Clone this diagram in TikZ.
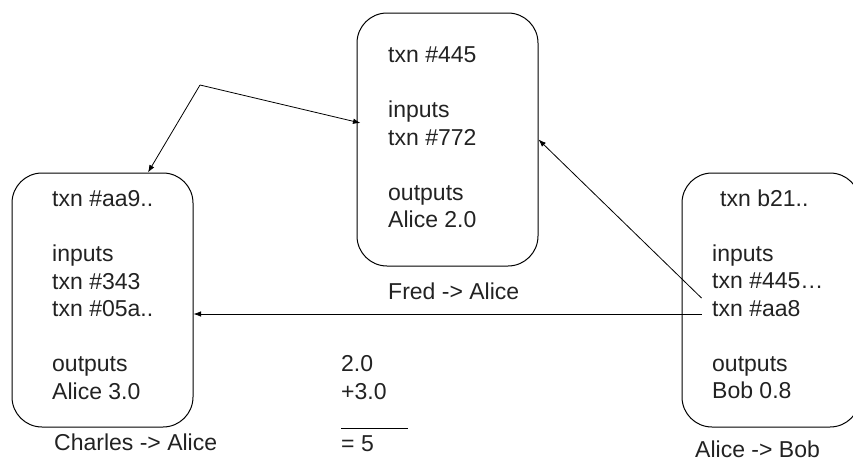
\documentclass[tikz,border=0pt]{standalone}
\usepackage{fontspec}
\setmainfont{Liberation Sans}
\usetikzlibrary{arrows.meta}
\definecolor{inkgray}{HTML}{222222}
\tikzset{
  txbox/.style={draw,line width=1pt,rounded corners=30pt,inner sep=0pt},
  txtext/.style={anchor=north west,align=left,inner sep=0pt,text=inkgray,
    font=\fontsize{23}{27.5}\selectfont},
  txlabel/.style={anchor=base west,inner sep=0pt,text=inkgray,
    font=\fontsize{23}{27.5}\selectfont},
  link/.style={line width=0.8pt,-{Latex[length=7.5pt,width=5.5pt]}}
}
\begin{document}
\begin{tikzpicture}[x=1pt,y=-1pt]
\useasboundingbox (0,0) rectangle (853,461);
\node[txbox,minimum width=181pt,minimum height=254pt] (left) at (102.5,300) {};
\node[txbox,minimum width=181pt,minimum height=253pt] (mid) at (447.5,139.5) {};
\node[txbox,minimum width=178pt,minimum height=254pt] (right) at (771,300) {};

\node[txtext] (lefttxt) at (52,190.5)
  {txn \#aa9..\\[27.5pt]inputs\\txn \#343\\txn \#05a..\\[27.5pt]outputs\\Alice 3.0};
\node[txtext] (midtxt) at (388,46.5)
  {txn \#445\\[27.5pt]inputs\\txn \#772\\[27.5pt]outputs\\Alice 2.0};
\node[txtext] (righttxt) at (712,189.5)
  {\hspace*{8pt}txn b21..\\[27.5pt]inputs\\txn \#445…\\txn \#aa8\\[27.5pt]outputs\\Bob 0.8};

\node[txlabel] (fred) at (388,299) {Fred -> Alice};
\node[txlabel] (charles) at (54,450) {Charles -> Alice};
\node[txlabel] (bob) at (695,457) {Alice -> Bob};

\node[txtext] (sum) at (341,355.5) {2.0\\+3.0};
\draw[line width=1pt] (341,428) -- (408,428);
\node[txlabel] (total) at (341,451) {= 5};

\coordinate (kink) at (200,85);
\coordinate (aa8) at ([xshift=20pt,yshift=-14pt]right.west);
\coordinate (in445) at ([xshift=20pt,yshift=2pt]right.west);
\draw[link] (kink) -- ([xshift=45.5pt]left.north);
\draw[link] (kink) -- ([xshift=4pt,yshift=16.5pt]mid.west);
\draw[link] (aa8) -- (aa8 -| left.east);
\draw[link] (in445) -- (mid.east);
\end{tikzpicture}
\end{document}
